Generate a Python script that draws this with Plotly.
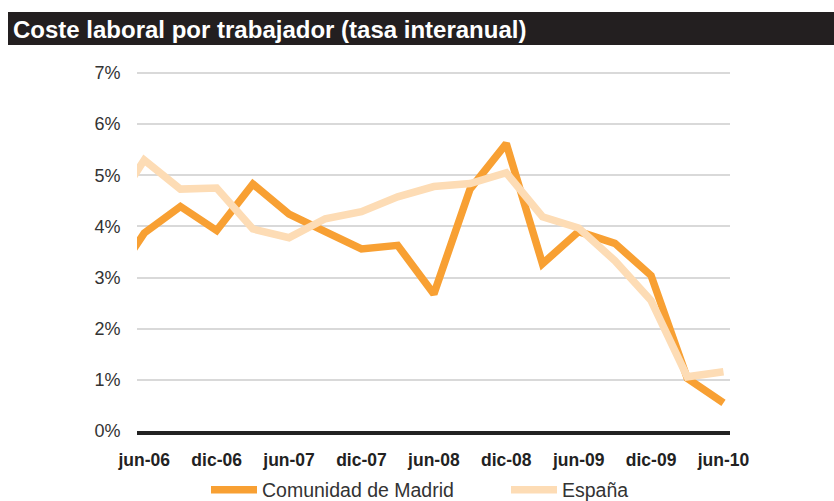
import plotly.graph_objects as go

# ---- data ----
quarters = ["mar-06", "jun-06", "sep-06", "dic-06", "mar-07", "jun-07", "sep-07", "dic-07",
            "mar-08", "jun-08", "sep-08", "dic-08", "mar-09", "jun-09", "sep-09", "dic-09",
            "mar-10", "jun-10"]
madrid = [2.80, 3.87, 4.39, 3.92, 4.83, 4.24, 3.90, 3.56, 3.63, 2.68, 4.73, 5.62,
          3.27, 3.90, 3.67, 3.04, 1.03, 0.55]
espana = [4.20, 5.30, 4.73, 4.75, 3.95, 3.78, 4.15, 4.29, 4.58, 4.78, 4.84, 5.05,
          4.19, 3.97, 3.33, 2.55, 1.06, 1.16]
tick_labels = ["jun-06", "dic-06", "jun-07", "dic-07", "jun-08", "dic-08", "jun-09", "dic-09", "jun-10"]
y_ticks = [0, 1, 2, 3, 4, 5, 6, 7]
title_text = "Coste laboral por trabajador (tasa interanual)"

# x positions: index relative to jun-06
xidx = [i - 1 for i in range(len(quarters))]
tick_pos = [quarters.index(t) - 1 for t in tick_labels]

W, H = 834, 501
L, R, T, B = 137, 104, 72, 70
pw, ph = W - L - R, H - T - B

def px_x(px):
    return (px - L) / pw

def px_y(py):
    return 1 + (T - py) / ph

FONT = "Liberation Sans, Arial, sans-serif"

fig = go.Figure()
fig.add_trace(go.Scatter(x=xidx, y=madrid, mode="lines", name="Comunidad de Madrid",
                         line=dict(color="#F8A033", width=7.5), customdata=quarters,
                         legend="legend"))
fig.add_trace(go.Scatter(x=xidx, y=espana, mode="lines", name="España",
                         line=dict(color="#FDDCB5", width=7.5), customdata=quarters,
                         legend="legend2"))

leg_common = dict(orientation="h", xref="container", yref="container",
                  xanchor="left", yanchor="middle", y=1 - 490 / H,
                  font=dict(size=19.5, color="#333333"), itemwidth=46,
                  bgcolor="rgba(0,0,0,0)")

fig.update_layout(
    width=W, height=H,
    margin=dict(l=L, r=R, t=T, b=B, autoexpand=False),
    paper_bgcolor="white", plot_bgcolor="white",
    font=dict(family=FONT, color="#333333"),
    showlegend=True,
    legend=dict(x=206 / W, **leg_common),
    legend2=dict(x=506 / W, **leg_common),
    xaxis=dict(range=[-0.2, 16.18], tickvals=tick_pos, ticktext=tick_labels,
               tickfont=dict(size=17.5, color="#222222", family=FONT, weight="bold"),
               showgrid=False, zeroline=False, showline=True, linecolor="#222222", linewidth=4,
               ticks="outside", ticklen=10, tickcolor="rgba(0,0,0,0)", fixedrange=True),
    yaxis=dict(range=[0, 7.02], tickvals=y_ticks, ticktext=[f"{v}%" for v in y_ticks],
               tickfont=dict(size=18, color="#333333", family=FONT),
               showgrid=True, gridcolor="#D9D9D9", gridwidth=1.5, zeroline=False,
               showline=False, ticks="outside", ticklen=12, tickcolor="rgba(0,0,0,0)",
               fixedrange=True),
)

# title bar
fig.add_shape(type="rect", xref="paper", yref="paper",
              x0=px_x(8), x1=px_x(834), y0=px_y(45), y1=px_y(12),
              fillcolor="#231F20", line=dict(width=0), layer="above")
fig.add_annotation(text=title_text, xref="paper", yref="paper",
                   x=px_x(11), y=px_y(29), xanchor="left", yanchor="middle",
                   showarrow=False,
                   font=dict(size=24, color="white", family=FONT, weight="bold"))

fig.write_html("out.html", config={"displayModeBar": False},
               post_script="document.body.style.margin='0';")
